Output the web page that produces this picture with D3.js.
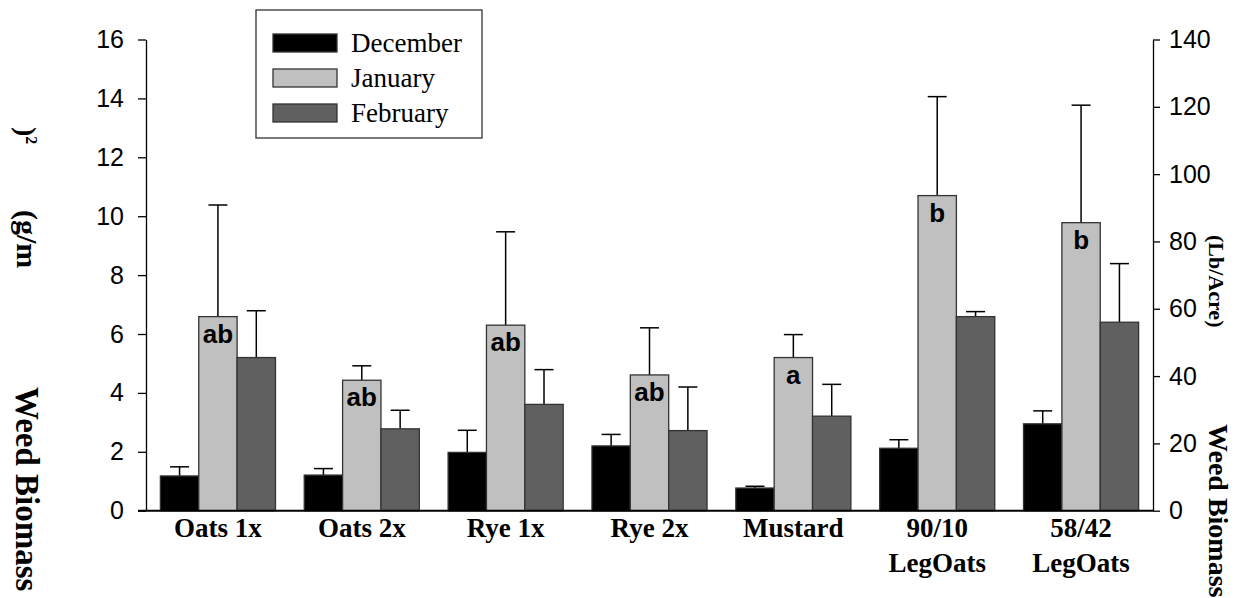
<!DOCTYPE html>
<html>
<head>
<meta charset="utf-8">
<script src="https://cdn.jsdelivr.net/npm/d3@7"></script>
<style>
  body { margin: 0; background: #fff; }
  .serif { font-family: "Liberation Serif", "Times New Roman", serif; }
  .sans { font-family: "Liberation Sans", Arial, sans-serif; }
</style>
</head>
<body>
<div id="chart"></div>
<script>
(function() {
    // Data
    const categories = ["Oats 1x", "Oats 2x", "Rye 1x", "Rye 2x", "Mustard", "90/10\nLegOats", "58/42\nLegOats"];
    const months = ["December", "January", "February"];
    const december = [1.18, 1.21, 1.98, 2.20, 0.77, 2.12, 2.95];
    const january = [6.59, 4.43, 6.30, 4.61, 5.20, 10.70, 9.78];
    const february = [5.20, 2.78, 3.61, 2.72, 3.21, 6.59, 6.40];
    const decemberErr = [1.49, 1.43, 2.73, 2.59, 0.83, 2.41, 3.39];
    const januaryErr = [10.38, 4.92, 9.47, 6.21, 5.98, 14.06, 13.77];
    const februaryErr = [6.79, 3.41, 4.79, 4.20, 4.29, 6.76, 8.39];
    const letters = ["ab", "ab", "ab", "ab", "a", "b", "b"];
    const leftTicks = [0, 2, 4, 6, 8, 10, 12, 14, 16];
    const rightTicks = [0, 20, 40, 60, 80, 100, 120, 140];

    const colors = {December: "#000000", January: "#c0c0c0", February: "#606060"};

    const W = 1236, H = 598;
    const left = 146, right = 1153, top = 39.5, bottom = 510.7;

    const svg = d3.select("#chart").append("svg")
        .attr("width", W).attr("height", H);

    // Scales
    const x0 = d3.scaleBand().domain(categories).range([left, right])
        .paddingInner(0.2).paddingOuter(0.1);
    const x1 = d3.scaleBand().domain(months).range([0, x0.bandwidth()]);
    const y = d3.scaleLinear().domain([0, 16]).range([bottom, top]);
    const yR = d3.scaleLinear().domain([0, 140]).range([bottom, top]);

    const rows = [];
    categories.forEach((c, i) => {
        rows.push({cat: c, m: "December", v: december[i], e: decemberErr[i]});
        rows.push({cat: c, m: "January", v: january[i], e: januaryErr[i]});
        rows.push({cat: c, m: "February", v: february[i], e: februaryErr[i]});
    });

    // Error bars (drawn first so bars cover the stem base)
    const capW = 19;
    const eb = svg.append("g").attr("stroke", "#000").attr("stroke-width", 1.5);
    rows.forEach(d => {
        const cx = x0(d.cat) + x1(d.m) + x1.bandwidth() / 2;
        eb.append("line").attr("x1", cx).attr("x2", cx)
            .attr("y1", y(d.v)).attr("y2", y(d.e));
        eb.append("line").attr("x1", cx - capW / 2).attr("x2", cx + capW / 2)
            .attr("y1", y(d.e)).attr("y2", y(d.e));
    });

    // Bars
    svg.append("g").selectAll("rect").data(rows).enter().append("rect")
        .attr("x", d => x0(d.cat) + x1(d.m))
        .attr("y", d => y(d.v))
        .attr("width", x1.bandwidth())
        .attr("height", d => y(0) - y(d.v))
        .attr("fill", d => colors[d.m])
        .attr("stroke", "#333")
        .attr("stroke-width", 1.3);

    // Significance letters
    svg.append("g").selectAll("text").data(categories).enter().append("text")
        .attr("class", "sans")
        .attr("x", (c) => x0(c) + x1("January") + x1.bandwidth() / 2)
        .attr("y", (c, i) => y(january[i]) + 26)
        .attr("text-anchor", "middle")
        .attr("font-size", 26).attr("font-weight", "bold")
        .text((c, i) => letters[i]);

    // Axes
    const axL = svg.append("g").attr("transform", `translate(${left},0)`)
        .call(d3.axisLeft(y).tickValues(leftTicks).tickSize(8).tickSizeOuter(0).tickPadding(14));
    const axR = svg.append("g").attr("transform", `translate(${right},0)`)
        .call(d3.axisRight(yR).tickValues(rightTicks).tickSize(7).tickSizeOuter(0).tickPadding(9));
    [axL, axR].forEach(a => {
        a.selectAll("text").attr("class", "sans").attr("font-size", 25).attr("fill", "#000");
        a.selectAll("line").attr("stroke", "#000").attr("stroke-width", 1.3);
        a.select(".domain").attr("stroke", "#000").attr("stroke-width", 1.3);
    });

    // Baseline
    svg.append("line").attr("x1", left - 8).attr("x2", right)
        .attr("y1", bottom).attr("y2", bottom)
        .attr("stroke", "#000").attr("stroke-width", 2);

    // Category labels
    const xl = svg.append("g").selectAll("text").data(categories).enter().append("text")
        .attr("class", "serif")
        .attr("text-anchor", "middle")
        .attr("font-size", 27).attr("font-weight", "bold")
        .attr("x", c => x0(c) + x0.bandwidth() / 2)
        .attr("y", 537);
    xl.selectAll("tspan").data(c => c.split("\n").map(s => ({s, c}))).enter().append("tspan")
        .attr("x", d => x0(d.c) + x0.bandwidth() / 2)
        .attr("dy", (d, i) => i === 0 ? 0 : 35)
        .text(d => d.s);

    // Rotated axis titles (pieces scattered like the source)
    function vtext(x, yy, size, txt) {
        return svg.append("text").attr("class", "serif")
            .attr("transform", `translate(${x},${yy}) rotate(90)`)
            .attr("font-size", size).attr("font-weight", "bold")
            .text(txt);
    }
    const sup = vtext(17, 127, 28, ")");
    sup.append("tspan").attr("font-size", 16).attr("dy", -9).text("2");
    vtext(17, 210, 30, "(g/m");
    vtext(16, 387, 33, "Weed Biomass");
    vtext(1209, 235, 22, "(Lb/Acre)");
    vtext(1209, 424, 28, "Weed Biomass");

    // Legend
    const lg = svg.append("g");
    lg.append("rect").attr("x", 256).attr("y", 10).attr("width", 226).attr("height", 128)
        .attr("fill", "#fff").attr("stroke", "#333").attr("stroke-width", 1.3);
    months.forEach((m, i) => {
        lg.append("rect").attr("x", 273).attr("y", 34 + i * 35).attr("width", 64).attr("height", 18)
            .attr("fill", colors[m]).attr("stroke", "#333").attr("stroke-width", 1.3);
        lg.append("text").attr("class", "serif")
            .attr("x", 351).attr("y", 52 + i * 35)
            .attr("font-size", 27).text(m);
    });
})();
</script>
</body>
</html>
